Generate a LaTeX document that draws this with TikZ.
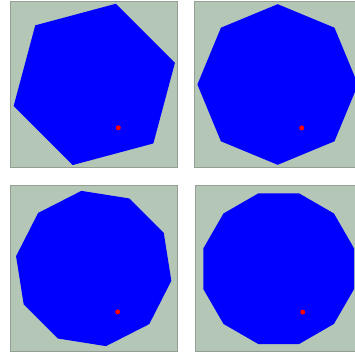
\documentclass[tikz,border=0pt]{standalone}
\definecolor{panelgreen}{RGB}{180,198,181}
\definecolor{panelrim}{RGB}{148,158,149}

\begin{document}
\begin{tikzpicture}[
            x=1pt, y=1pt,
            panel/.style={
                fill=panelgreen,
                draw=panelrim,
                line width=0.8pt
            },
            polygon/.style={
                fill=blue
            },
            dot/.style={
                circle,
                fill=red,
                inner sep=0pt,
                minimum size=5pt
            }
        ]
            \useasboundingbox (0,0) rectangle (355,351);
            \clip (0,0) rectangle (355,351);
            \foreach \n/\cx/\cy/\r/\rot in {
                6/94.3/266.6/83.5/15,
                8/277.7/266.5/80.3/90,
                10/93.7/82.5/78.6/27,
                12/278.7/82.3/78.1/15
            } {
                \draw[panel] (\cx-83.5,\cy-83) rectangle (\cx+83.5,\cy+83);
                \fill[polygon, shift={(\cx,\cy)}] (\rot:\r)
                    \foreach \k in {1,...,\n} { -- ({\rot+360*\k/\n}:\r) } -- cycle;
                \node[dot] (dot\n) at (\cx+24,\cy-43.4) {};
            }
        \end{tikzpicture}
\end{document}
